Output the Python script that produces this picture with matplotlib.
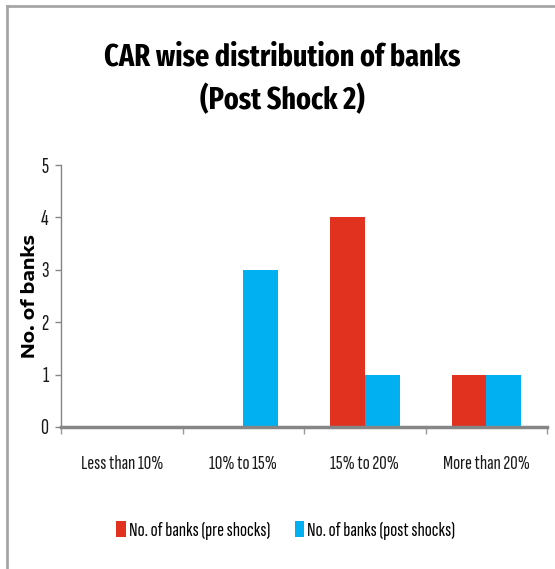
import matplotlib
matplotlib.use("Agg")
import matplotlib.pyplot as plt
from matplotlib.lines import Line2D
import numpy as np

categories = ["Less than 10%", "10% to 15%", "15% to 20%", "More than 20%"]
pre_shocks = [0, 0, 4, 1]
post_shocks = [0, 3, 1, 1]
series_names = ["No. of banks (pre shocks)", "No. of banks (post shocks)"]
y_ticks = [0, 1, 2, 3, 4, 5]

RED = "#E0321E"
BLUE = "#00B0F0"
GRAY = "#868686"
NARROW = ["Sofia Sans Extra Condensed", "Fira Sans Extra Condensed", "DejaVu Sans"]
NARROW_BOLD = ["Fira Sans Extra Condensed", "Roboto Condensed", "DejaVu Sans"]
WIDE = ["Encode Sans Expanded", "DejaVu Sans"]

fig = plt.figure(figsize=(5.55, 5.69), dpi=100)
ax = fig.add_axes([0.110, 0.2496, 0.8756, 0.4604])

x = np.arange(len(categories))
w = 0.286
ax.bar(x - w / 2, pre_shocks, w, color=RED, label=series_names[0])
ax.bar(x + w / 2, post_shocks, w, color=BLUE, label=series_names[1])

ax.set_xlim(-0.5, len(categories) - 0.5)
ax.set_ylim(0, 5)
ax.set_yticks(y_ticks)
ax.set_xticks(x)
ax.set_xticklabels(categories, fontfamily=NARROW, fontsize=15, color="#1a1a1a")
ax.set_yticklabels([str(v) for v in y_ticks], fontfamily=NARROW, fontsize=16, color="#1a1a1a")
ax.tick_params(axis="x", length=0, pad=20)
ax.tick_params(axis="y", length=4, width=1, color=GRAY, pad=5, direction="out")

# category separators along the baseline
ax.set_xticks(np.arange(-0.5, len(categories)), minor=True)
ax.tick_params(axis="x", which="minor", length=5, width=1, color="#999999", direction="out")

for s in ["top", "right"]:
    ax.spines[s].set_visible(False)
ax.spines["left"].set_color(GRAY)
ax.spines["left"].set_linewidth(1)
ax.spines["bottom"].set_color(GRAY)
ax.spines["bottom"].set_linewidth(2.5)

ax.set_ylabel("No. of banks", fontfamily=WIDE, fontweight="bold",
              fontsize=13, labelpad=1)

fig.text(0.508, 0.900, "CAR wise distribution of banks", ha="center", va="center",
         fontfamily=NARROW_BOLD, fontweight="bold", fontsize=22)
fig.text(0.508, 0.823, "(Post Shock 2)", ha="center", va="center",
         fontfamily=NARROW_BOLD, fontweight="bold", fontsize=22)

leg = fig.legend(loc="center", bbox_to_anchor=(0.515, 0.068), ncol=2, frameon=False,
                 prop={"family": NARROW, "size": 15}, handlelength=0.45, handleheight=0.8,
                 handletextpad=0.15, columnspacing=1.2)

# chart area border (top and left edges)
fig.add_artist(Line2D([7 / 555, 1.0], [1 - 6 / 569, 1 - 6 / 569], transform=fig.transFigure,
                      color="#A6A6A6", linewidth=2))
fig.add_artist(Line2D([7 / 555, 7 / 555], [0, 1 - 6 / 569], transform=fig.transFigure,
                      color="#A6A6A6", linewidth=2))

fig.savefig("out.png", dpi=100)
